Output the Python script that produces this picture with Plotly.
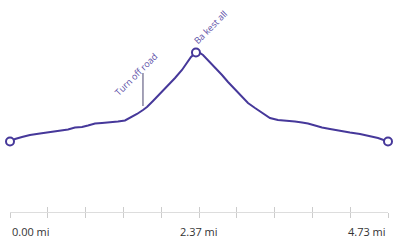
import plotly.graph_objects as go

# distance along route (miles)
distance = [0.000, 0.063, 0.150, 0.250, 0.375, 0.501, 0.626, 0.726, 0.813, 0.901,
            0.976, 1.064, 1.151, 1.251, 1.351, 1.439, 1.501, 1.589, 1.664, 1.714,
            1.789, 1.877, 1.965, 2.065, 2.152, 2.215, 2.265, 2.327, 2.377, 2.415,
            2.465, 2.527, 2.590, 2.653, 2.728, 2.815, 2.903, 2.978, 3.066, 3.153,
            3.253, 3.353, 3.466, 3.566, 3.654, 3.729, 3.817, 3.904, 4.004, 4.129,
            4.254, 4.380, 4.505, 4.605, 4.730]
# elevation (ft)
elevation = [705, 730, 750, 770, 785, 800, 815, 825, 845, 850,
             865, 885, 890, 895, 905, 915, 940, 980, 1020, 1050,
             1110, 1180, 1250, 1340, 1420, 1490, 1550, 1595, 1590, 1570,
             1530, 1470, 1420, 1370, 1300, 1230, 1160, 1090, 1040, 990,
             940, 920, 915, 905, 895, 885, 865, 845, 830, 810,
             795, 780, 760, 740, 705]
marker_idx = [0, 27, 54]

tick_positions = [i * 0.473 for i in range(11)]
label_values = [0.0, 2.365, 4.73]
label_texts = ["0.00 mi", "2.37 mi", "4.73 mi"]

poi_names = ["Turn off road", "Ba kest all"]
poi_dist = [1.664, 2.327]
poi_elev = [1060, 1595]

LINE = "#46389a"
TXT = "#5a4ea6"

fig = go.Figure()
fig.add_trace(go.Scatter(x=distance, y=elevation, mode="lines",
                         line=dict(color=LINE, width=2), hoverinfo="skip",
                         cliponaxis=False))
fig.add_trace(go.Scatter(x=[distance[i] for i in marker_idx],
                         y=[elevation[i] for i in marker_idx], mode="markers",
                         marker=dict(size=8, color="white", line=dict(color=LINE, width=2)),
                         hoverinfo="skip", cliponaxis=False))
# invisible trace on overlaid axis for inner ticks
fig.add_trace(go.Scatter(x=[0, 4.73], y=[0, 0], xaxis="x2", mode="markers",
                         marker=dict(opacity=0), hoverinfo="skip"))

# Turn off road leader line
fig.add_shape(type="line", x0=poi_dist[0], x1=poi_dist[0], y0=poi_elev[0], y1=1390,
              line=dict(color="#4a4470", width=1))
fig.add_annotation(x=1.57, y=1380, text=poi_names[0], textangle=-45, showarrow=False,
                   font=dict(family="Open Sans", size=9, color=TXT),
                   xanchor="center", yanchor="middle")
fig.add_annotation(x=2.50, y=1850, text=poi_names[1], textangle=-45, showarrow=False,
                   font=dict(family="Open Sans", size=9, color=TXT),
                   xanchor="center", yanchor="middle")

anchors = ["left", "center", "right"]
for v, t, a in zip(label_values, label_texts, anchors):
    fig.add_annotation(x=v, y=-0.09, yref="paper", text=t, showarrow=False,
                       xanchor=a, yanchor="middle",
                       font=dict(family="Open Sans", size=11, color="#333333"))

fig.update_layout(
    width=400, height=250, margin=dict(l=10, r=12, t=0, b=38),
    paper_bgcolor="white", plot_bgcolor="white", showlegend=False,
    xaxis=dict(range=[0, 4.73], showgrid=False, zeroline=False, showline=True,
               linecolor="#dddddd", linewidth=1, tickvals=tick_positions,
               ticks="outside", ticklen=5, tickcolor="#cccccc", showticklabels=False),
    xaxis2=dict(range=[0, 4.73], overlaying="x", side="bottom", showgrid=False,
                zeroline=False, tickvals=tick_positions, ticks="inside", ticklen=5,
                tickcolor="#cccccc", showticklabels=False, showline=False),
    yaxis=dict(range=[0, 2120], visible=False, showgrid=False, zeroline=False),
)
fig.write_html("out.html")
